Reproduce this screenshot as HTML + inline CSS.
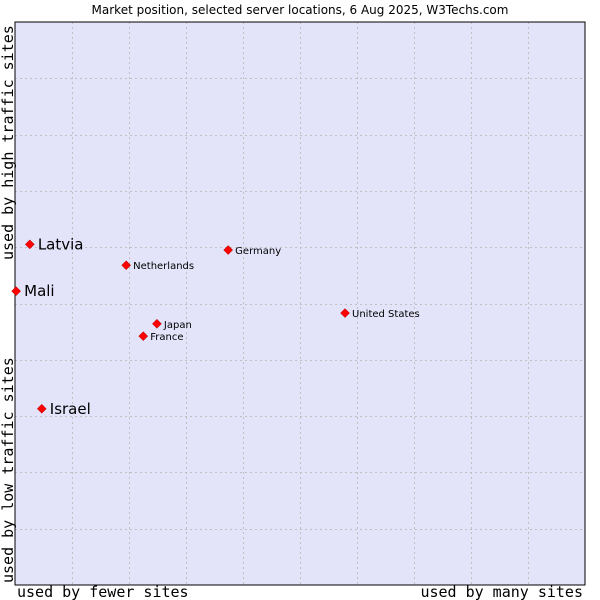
<!DOCTYPE html>
<html><head><meta charset="utf-8"><style>
body{margin:0;background:#fff;width:600px;height:600px;overflow:hidden}
svg{display:block}
</style></head><body>
<svg width="600" height="600">
<text x="300" y="14" text-anchor="middle" font-family="DejaVu Sans, sans-serif" font-size="12" fill="#000">Market position, selected server locations, 6 Aug 2025, W3Techs.com</text>
<rect x="15" y="22" width="570" height="563" fill="#e3e4fa"/>
<g id="grid"></g>
<rect x="15" y="22" width="570" height="563" fill="none" stroke="#000" stroke-width="1"/>
<text x="17" y="597" font-family="DejaVu Sans Mono, Liberation Mono, monospace" font-size="15">used by fewer sites</text>
<text x="583" y="597" text-anchor="end" font-family="DejaVu Sans Mono, Liberation Mono, monospace" font-size="15">used by many sites</text>
<text transform="translate(13,583) rotate(-90)" font-family="DejaVu Sans Mono, Liberation Mono, monospace" font-size="15">used by low traffic sites</text>
<text transform="translate(13,260) rotate(-90)" font-family="DejaVu Sans Mono, Liberation Mono, monospace" font-size="15">used by high traffic sites</text>
<g id="points"></g>
</svg>
<script>
const names=["Latvia","Mali","Israel","Netherlands","Germany","United States","Japan","France"];
const xVals=[2.6,0.2,4.7,19.5,37.4,57.9,24.9,22.5];
const yVals=[60.5,52.2,31.3,56.8,59.5,48.3,46.4,44.2];
const bigLabel=[true,true,true,false,false,false,false,false];
const NS="http://www.w3.org/2000/svg";
const X0=15,X1=585,Y0=585,Y1=22;
const sx=v=>X0+v/100*(X1-X0);
const sy=v=>Y0-v/100*(Y0-Y1);
const grid=document.getElementById('grid');
for(let i=1;i<10;i++){
  const gx=Math.round(sx(i*10))+0.5, gy=Math.round(sy(i*10))+0.5;
  const v=document.createElementNS(NS,'line');
  v.setAttribute('x1',gx);v.setAttribute('x2',gx);v.setAttribute('y1',Y1);v.setAttribute('y2',Y0);
  v.setAttribute('stroke','#c0c0c0');v.setAttribute('stroke-dasharray','2,3');
  
  
  grid.appendChild(v);
  const h=document.createElementNS(NS,'line');
  h.setAttribute('x1',X0);h.setAttribute('x2',X1);h.setAttribute('y1',gy);h.setAttribute('y2',gy);
  h.setAttribute('stroke','#c0c0c0');h.setAttribute('stroke-dasharray','2,3');
  
  
  grid.appendChild(h);
}
const pts=document.getElementById('points');
names.forEach((n,i)=>{
  const x=sx(xVals[i]),y=sy(yVals[i]);
  const d=document.createElementNS(NS,'polygon');
  d.setAttribute('points',`${x},${y-4.5} ${x+4.5},${y} ${x},${y+4.5} ${x-4.5},${y}`);
  d.setAttribute('fill','#f00');d.setAttribute('stroke','#a00');d.setAttribute('stroke-width','0.5');
  
  
  pts.appendChild(d);
  const t=document.createElementNS(NS,'text');
  t.setAttribute('x',x+(bigLabel[i]?8:7));
  t.setAttribute('y',y+(bigLabel[i]?5:4));
  t.setAttribute('font-family','DejaVu Sans, sans-serif');
  t.setAttribute('font-size',bigLabel[i]?'15':'10');
  t.textContent=n;
  
  
  pts.appendChild(t);
});
</script>
</body></html>
